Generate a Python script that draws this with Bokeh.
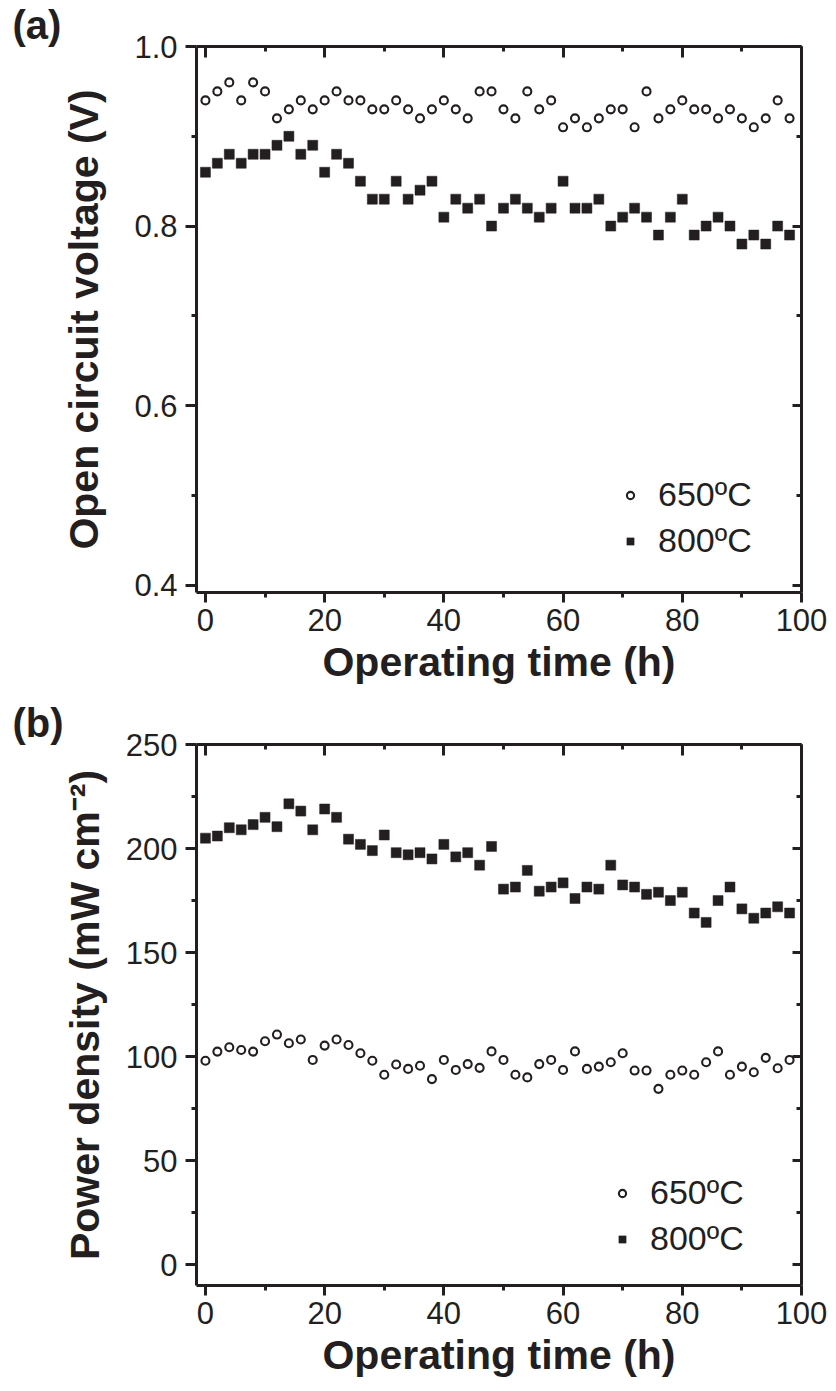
from bokeh.plotting import figure
from bokeh.models import (LinearAxis, FixedTicker, Range1d, Legend, LegendItem,
                          ColumnDataSource, NumeralTickFormatter, CustomLabelingPolicy)
from bokeh.layouts import column
from bokeh.embed import file_html
from bokeh.resources import INLINE

# ---------------- data ----------------
time_h = [0, 2, 4, 6, 8, 10, 12, 14, 16, 18, 20, 22, 24, 26, 28, 30, 32, 34, 36, 38,
          40, 42, 44, 46, 48, 50, 52, 54, 56, 58, 60, 62, 64, 66, 68, 70, 72, 74, 76, 78,
          80, 82, 84, 86, 88, 90, 92, 94, 96, 98]

ocv_650 = [0.94, 0.95, 0.96, 0.94, 0.96, 0.95, 0.92, 0.93, 0.94, 0.93,
           0.94, 0.95, 0.94, 0.94, 0.93, 0.93, 0.94, 0.93, 0.92, 0.93,
           0.94, 0.93, 0.92, 0.95, 0.95, 0.93, 0.92, 0.95, 0.93, 0.94,
           0.91, 0.92, 0.91, 0.92, 0.93, 0.93, 0.91, 0.95, 0.92, 0.93,
           0.94, 0.93, 0.93, 0.92, 0.93, 0.92, 0.91, 0.92, 0.94, 0.92]

ocv_800 = [0.86, 0.87, 0.88, 0.87, 0.88, 0.88, 0.89, 0.90, 0.88, 0.89,
           0.86, 0.88, 0.87, 0.85, 0.83, 0.83, 0.85, 0.83, 0.84, 0.85,
           0.81, 0.83, 0.82, 0.83, 0.80, 0.82, 0.83, 0.82, 0.81, 0.82,
           0.85, 0.82, 0.82, 0.83, 0.80, 0.81, 0.82, 0.81, 0.79, 0.81,
           0.83, 0.79, 0.80, 0.81, 0.80, 0.78, 0.79, 0.78, 0.80, 0.79]

pd_650 = [98.0, 102.4, 104.5, 103.2, 102.4, 107.4, 110.6, 106.4, 108.2, 98.4,
          105.3, 108.2, 105.6, 101.6, 98.0, 91.3, 96.2, 94.1, 95.6, 89.2,
          98.4, 93.6, 96.4, 94.6, 102.5, 98.4, 91.3, 90.0, 96.4, 98.4,
          93.6, 102.5, 94.1, 95.2, 97.3, 101.6, 93.3, 93.3, 84.5, 91.3,
          93.3, 91.3, 97.3, 102.5, 91.3, 95.2, 92.5, 99.4, 94.4, 98.4]

pd_800 = [205.0, 206.0, 210.0, 209.0, 211.5, 215.0, 210.5, 221.5, 218.0, 209.0,
          219.0, 215.0, 204.5, 202.0, 199.0, 206.5, 198.0, 197.0, 198.0, 195.0,
          202.0, 196.0, 198.0, 192.0, 201.0, 180.5, 181.5, 189.5, 179.5, 181.5,
          183.5, 176.0, 181.5, 180.5, 192.0, 182.5, 181.5, 178.0, 179.0, 175.0,
          179.0, 169.0, 164.5, 175.0, 181.5, 171.0, 166.5, 169.0, 172.0, 169.0]

series_labels = ["650\u00baC", "800\u00baC"]
x_ticks = [0, 20, 40, 60, 80, 100]
x_minor = [10, 30, 50, 70, 90]
ocv_ticks = [0.4, 0.6, 0.8, 1.0]
ocv_minor = [0.5, 0.7, 0.9]
pd_ticks = [0, 50, 100, 150, 200, 250]
pd_minor = [25, 75, 125, 175, 225]

INK = "#231f20"
FONT = "Liberation Sans"
X0, X1 = -1.5, 100


def make_panel(y1, y2, yrange, yticks, yminor, ylabel, tag, top_border,
               frame_h, bottom_border, leg_loc, ylab_standoff, yfmt=None):
    p = figure(frame_width=605, frame_height=frame_h,
               min_border_left=196, min_border_right=35,
               min_border_top=top_border, min_border_bottom=bottom_border,
               x_range=Range1d(X0, X1), y_range=Range1d(*yrange),
               output_backend="svg", toolbar_location=None,
               background_fill_color="white", border_fill_color="white")
    p.grid.visible = False
    p.outline_line_color = None

    # panel tag "(a)" / "(b)" as the figure title, shifted left of the frame
    p.title.text = tag
    p.title.align = "left"
    p.title.offset = -184
    p.title.standoff = 0
    p.title.text_font = FONT
    p.title.text_font_style = "bold"
    p.title.text_font_size = "40px"
    p.title.text_color = INK

    src = ColumnDataSource(dict(t=time_h, a=y1, b=y2))
    r1 = p.scatter("t", "a", source=src, marker="circle", size=8,
                   fill_color="white", line_color=INK, line_width=2.1)
    r2 = p.scatter("t", "b", source=src, marker="square", size=10,
                   fill_color=INK, line_color=INK, line_width=0.5)

    leg = Legend(items=[LegendItem(label=series_labels[0], renderers=[r1]),
                        LegendItem(label=series_labels[1], renderers=[r2])],
                 location=leg_loc, border_line_color=None,
                 background_fill_alpha=0, padding=0, margin=0,
                 spacing=7, glyph_width=18, glyph_height=18, label_standoff=19,
                 label_text_font=FONT, label_text_font_size="34px",
                 label_text_color=INK)
    p.add_layout(leg, "center")

    xa = p.xaxis[0]
    xa.ticker = FixedTicker(ticks=x_ticks, minor_ticks=x_minor)
    xa.axis_label = "Operating time (h)"
    ya = p.yaxis[0]
    ya.ticker = FixedTicker(ticks=yticks, minor_ticks=yminor)
    ya.axis_label = ylabel
    if yfmt is not None:
        ya.formatter = yfmt

    for ax, out_major in ((xa, 10), (ya, 11)):
        ax.axis_line_width = 3
        ax.axis_line_color = INK
        ax.major_tick_line_width = 3
        ax.minor_tick_line_width = 3
        ax.major_tick_line_color = INK
        ax.minor_tick_line_color = INK
        ax.major_tick_out = out_major
        ax.major_tick_in = 0
        ax.minor_tick_out = 5
        ax.minor_tick_in = 0
        ax.major_label_text_font = FONT
        ax.major_label_text_font_size = "31px"
        ax.major_label_text_color = INK
        ax.axis_label_text_font = FONT
        ax.axis_label_text_font_style = "bold"
        ax.axis_label_text_font_size = "41px"
        ax.axis_label_text_color = INK
    xa.major_label_standoff = 6
    ya.major_label_standoff = 8
    xa.axis_label_standoff = 5
    ya.axis_label_standoff = ylab_standoff

    # mirrored frame axes (top, right): inward ticks, no labels drawn
    top = LinearAxis(ticker=FixedTicker(ticks=x_ticks, minor_ticks=x_minor))
    right = LinearAxis(ticker=FixedTicker(ticks=yticks, minor_ticks=yminor))
    for ax, inmaj in ((top, 11), (right, 9)):
        ax.axis_line_width = 3
        ax.axis_line_color = INK
        ax.major_tick_line_width = 3
        ax.minor_tick_line_width = 3
        ax.major_tick_line_color = INK
        ax.minor_tick_line_color = INK
        ax.major_tick_out = 0
        ax.major_tick_in = inmaj
        ax.minor_tick_out = 0
        ax.minor_tick_in = 5
        ax.major_label_text_font_size = "0px"
        ax.major_label_standoff = 0
        ax.major_label_policy = CustomLabelingPolicy(code="return []")
    p.add_layout(top, "above")
    p.add_layout(right, "right")
    return p


# top panel: frame 44 -> 590 px
p1 = make_panel(ocv_650, ocv_800, (0.392, 1.0), ocv_ticks, ocv_minor,
                "Open circuit voltage (V)", "(a)", 44, 546, 105, (425, 32), 24,
                yfmt=NumeralTickFormatter(format="0.0"))
# bottom panel: frame ~742 -> 1283 px
p2 = make_panel(pd_650, pd_800, (-10, 250), pd_ticks, pd_minor,
                "Power density (mW cm\u207b\u00b2)", "(b)", 47, 541, 104, (417, 27), 15)

layout = column(p1, p2, spacing=0)
open("out.html", "w").write(file_html(layout, INLINE))
